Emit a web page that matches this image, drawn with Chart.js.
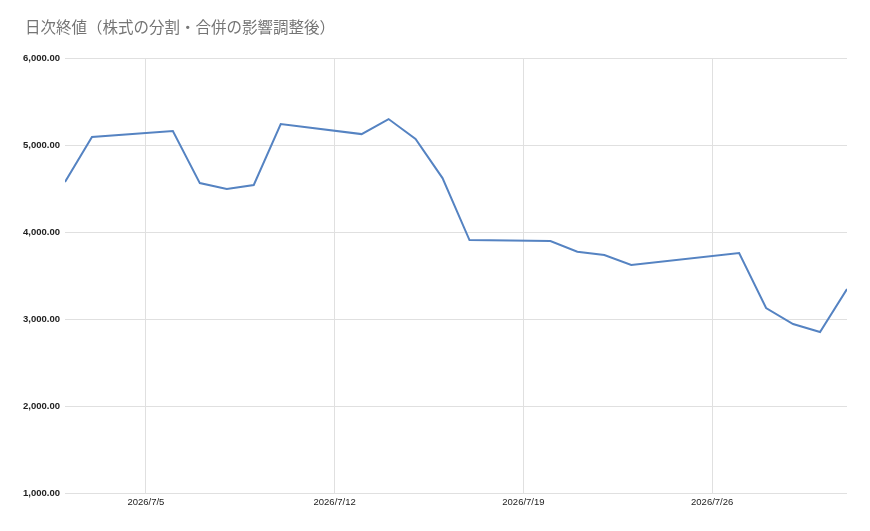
<!DOCTYPE html>
<html>
<head>
<meta charset="utf-8">
<script src="https://cdn.jsdelivr.net/npm/chart.js@4/dist/chart.umd.min.js"></script>
<style>
html,body{margin:0;padding:0;background:#fff;}
#wrap{width:870px;height:531px;}
</style>
</head>
<body>
<div id="wrap"><canvas id="c" width="870" height="531"></canvas></div>
<script>
const titleText = '日次終値（株式の分割・合併の影響調整後）';
const dates = ['2026/7/2','2026/7/3','2026/7/6','2026/7/7','2026/7/8','2026/7/9','2026/7/10',
  '2026/7/13','2026/7/14','2026/7/15','2026/7/16','2026/7/17',
  '2026/7/20','2026/7/21','2026/7/22','2026/7/23',
  '2026/7/27','2026/7/28','2026/7/29','2026/7/30','2026/7/31'];
const closes = [4580,5097,5166,4567,4500,4545,5246,
  5131,5304,5074,4625,3911,
  3900,3777,3739,3625,
  3762,3129,2945,2853,3348];
const xTickLabels = ['2026/7/5','2026/7/12','2026/7/19','2026/7/26'];
const xRange = ['2026/7/2','2026/7/31'];
const yTicks = [1000,2000,3000,4000,5000,6000];

const dayOf = s => Number(s.split('/')[2]);
const points = dates.map((d,i)=>({x:dayOf(d), y:closes[i]}));
const fmt = v => v.toLocaleString('en-US',{minimumFractionDigits:2,maximumFractionDigits:2});

const titleShift = {
  id:'titleShift',
  afterLayout(chart){
    if (chart.titleBlock) { chart.titleBlock.left = 25; }
  }
};

new Chart(document.getElementById('c'), {
  type:'line',
  data:{datasets:[{
    label:titleText,
    data:points,
    borderColor:'#5583c2',
    backgroundColor:'#5583c2',
    borderWidth:2,
    pointRadius:0,
    tension:0,
    fill:false
  }]},
  options:{
    responsive:false,
    animation:false,
    layout:{padding:{left:15,right:23,top:0,bottom:0}},
    plugins:{
      legend:{display:false},
      tooltip:{enabled:false},
      title:{
        display:true,
        text:titleText,
        align:'start',
        color:'#757575',
        font:{family:"'Noto Sans CJK JP', 'Noto Sans', sans-serif", size:15.5, weight:'normal', lineHeight:1.2},
        padding:{top:18,bottom:22}
      }
    },
    scales:{
      x:{
        type:'linear',
        min:dayOf(xRange[0]),
        max:dayOf(xRange[1]),
        afterBuildTicks:(s)=>{ s.ticks = xTickLabels.map(t=>({value:dayOf(t)})); },
        afterFit:(s)=>{ s.height = 38; },
        ticks:{
          padding:4,
          color:'#222',
          font:{family:"'Liberation Sans', Arial, sans-serif", size:9.5},
          maxRotation:0,
          autoSkip:false,
          callback:(v)=>{ const t = xTickLabels.find(l=>dayOf(l)===v); return t||''; }
        },
        grid:{color:'#e0e0e0', drawTicks:false, lineWidth:1},
        border:{display:false}
      },
      y:{
        min:yTicks[0],
        max:yTicks[yTicks.length-1],
        afterBuildTicks:(s)=>{ s.ticks = yTicks.map(v=>({value:v})); },
        afterFit:(s)=>{ s.width = 50; },
        ticks:{
          padding:5,
          color:'#222',
          font:{family:"'Liberation Sans', Arial, sans-serif", size:9.5, weight:'bold'},
          callback:(v)=>fmt(v)
        },
        grid:{color:'#e0e0e0', drawTicks:false, lineWidth:1},
        border:{display:false}
      }
    }
  },
  plugins:[titleShift]
});
</script>
</body>
</html>
